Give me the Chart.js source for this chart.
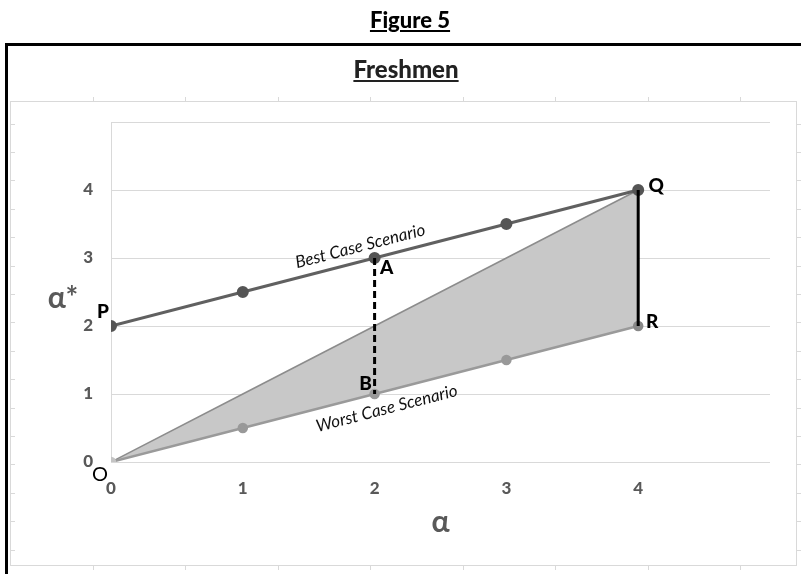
<!DOCTYPE html>
<html>
    <head>
        <title>Figure 5 - Freshmen</title>
        <script src="https://cdn.jsdelivr.net/npm/chart.js@4.4.1/dist/chart.umd.min.js"></script>
        <style>
            body { margin: 0; overflow: hidden; background: white; font-family: Lato, "Open Sans", sans-serif; }
            #figureTitle { position: absolute; left: 0; width: 820px; top: 6px; text-align: center; font-weight: 900; font-size: 22px; text-decoration: underline; }
            #frame { position: absolute; left: 5px; top: 43px; width: 830px; height: 560px; border: 3px solid black; }
            #chartTitle { position: absolute; left: 0; width: 812px; top: 54px; text-align: center; font-weight: 900; font-size: 24px; color: #222; text-decoration: underline; }
            canvas { position: absolute; left: 0; top: 0; }
        </style>
    </head>
    <body>
        <canvas id="freshmenChart" width="801" height="574"></canvas>
        <div id="figureTitle">Figure 5</div>
        <div id="frame"></div>
        <div id="chartTitle">Freshmen</div>
        <script>
            const alphaValues = [0, 1, 2, 3, 4];
            const bestCase = [2, 2.5, 3, 3.5, 4];
            const worstCase = [0, 0.5, 1, 1.5, 2];
            const diagonal = [0, 1, 2, 3, 4];
            const segmentQR = { x: [4, 4], y: [4, 2] };
            const segmentAB = { x: [2, 2], y: [3, 1] };
            const axisTicks = [0, 1, 2, 3, 4];

            const pointLabels = [
                { text: "P", x: 0, y: 2, dx: -8, dy: -14 },
                { text: "Q", x: 4, y: 4, dx: 18, dy: -4 },
                { text: "R", x: 4, y: 2, dx: 14, dy: -4 },
                { text: "A", x: 2, y: 3, dx: 12, dy: 10 },
                { text: "B", x: 2, y: 1, dx: -9, dy: -10 },
                { text: "O", x: 0, y: 0, dx: -11, dy: 13 },
            ];

            const toPoints = (xs, ys) => xs.map((x, i) => ({ x: x, y: ys[i] }));
            const font = 'Lato, "Open Sans", sans-serif';

            const annotations = {
                id: "annotations",
                beforeDraw: (chart) => {
                    const ctx = chart.ctx;
                    ctx.save();
                    ctx.strokeStyle = "#d9d9d9";
                    ctx.lineWidth = 1;
                    ctx.strokeRect(10.5, 101.5, 786, 464);
                    ctx.beginPath();
                    for (let k = 1; k <= 8; k++) {
                        const x = Math.round(92.5 * k) + 0.5;
                        ctx.moveTo(x, 97); ctx.lineTo(x, 101);
                        ctx.moveTo(x, 566); ctx.lineTo(x, 570);
                    }
                    for (let k = 0; k < 16; k++) {
                        const y = Math.round(123.5 + 28.4 * k) + 0.5;
                        ctx.moveTo(10, y); ctx.lineTo(15, y);
                        ctx.moveTo(797, y); ctx.lineTo(801, y);
                    }
                    ctx.stroke();
                    ctx.restore();
                },
                afterDraw: (chart) => {
                    const ctx = chart.ctx;
                    const xs = chart.scales.x;
                    const ys = chart.scales.y;
                    ctx.save();

                    // y axis title, horizontal
                    ctx.fillStyle = "#595959";
                    ctx.font = "bold 30px " + font;
                    ctx.textAlign = "center";
                    ctx.textBaseline = "middle";
                    ctx.fillText("α*", 63, (chart.chartArea.top + chart.chartArea.bottom) / 2 + 6);

                    // point letters
                    ctx.fillStyle = "black";
                    pointLabels.forEach(p => {
                        ctx.font = p.text === "O" ? "20px " + font : "900 19px " + font;
                        ctx.fillText(p.text, xs.getPixelForValue(p.x) + p.dx, ys.getPixelForValue(p.y) + p.dy);
                    });

                    // scenario labels along the lines
                    const lineLabel = (text, values, at, offset) => {
                        const x0 = xs.getPixelForValue(alphaValues[0]);
                        const y0 = ys.getPixelForValue(values[0]);
                        const x1 = xs.getPixelForValue(alphaValues[alphaValues.length - 1]);
                        const y1 = ys.getPixelForValue(values[values.length - 1]);
                        const angle = Math.atan2(y1 - y0, x1 - x0);
                        const px = x0 + (x1 - x0) * at;
                        const py = y0 + (y1 - y0) * at;
                        ctx.save();
                        ctx.translate(px, py);
                        ctx.rotate(angle);
                        ctx.font = "italic 17px " + font;
                        ctx.fillStyle = "#111";
                        ctx.fillText(text, 0, offset);
                        ctx.restore();
                    };
                    lineLabel("Best Case Scenario", bestCase, 0.48, -15);
                    lineLabel("Worst Case Scenario", worstCase, 0.515, 17);
                    ctx.restore();
                },
            };

            const tickFont = { family: font, size: 17, weight: "900" };

            new Chart(document.getElementById("freshmenChart"), {
                type: "scatter",
                data: {
                    datasets: [
                        {
                            data: toPoints(segmentQR.x, segmentQR.y),
                            showLine: true,
                            borderColor: "black",
                            borderWidth: 3,
                            pointRadius: 0,
                        },
                        {
                            data: toPoints(segmentAB.x, segmentAB.y),
                            showLine: true,
                            borderColor: "black",
                            borderWidth: 3,
                            borderDash: [7, 4],
                            pointRadius: 0,
                        },
                        {
                            data: toPoints(alphaValues, bestCase),
                            showLine: true,
                            borderColor: "#606060",
                            borderWidth: 3,
                            pointRadius: 4.5,
                            pointBackgroundColor: "#555555",
                            pointBorderColor: "#555555",
                        },
                        {
                            data: toPoints(alphaValues, worstCase),
                            showLine: true,
                            borderColor: "#9a9a9a",
                            borderWidth: 2.5,
                            pointRadius: 4,
                            pointBackgroundColor: ["#c4c4c4", "#999999", "#999999", "#999999", "#888888"],
                            pointBorderColor: ["#c4c4c4", "#999999", "#999999", "#999999", "#888888"],
                        },
                        {
                            data: toPoints(alphaValues, diagonal),
                            showLine: true,
                            borderColor: "#8c8c8c",
                            borderWidth: 1.5,
                            pointRadius: 0,
                            fill: { target: 3 },
                            backgroundColor: "#c8c8c8",
                        },
                    ],
                },
                options: {
                    responsive: false,
                    animation: false,
                    layout: { padding: { left: 0, right: 31, top: 122, bottom: 0 } },
                    plugins: {
                        legend: { display: false },
                        tooltip: { enabled: false },
                    },
                    scales: {
                        x: {
                            type: "linear",
                            min: 0,
                            max: 5,
                            afterBuildTicks: (scale) => { scale.ticks = axisTicks.concat([5]).map(v => ({ value: v })); },
                            ticks: {
                                padding: 16,
                                color: "#595959",
                                font: tickFont,
                                callback: (v) => axisTicks.includes(v) ? v : "",
                            },
                            grid: { display: false, drawTicks: false },
                            border: { display: false },
                            title: {
                                display: true,
                                text: "α",
                                color: "#595959",
                                font: { family: font, size: 30, weight: "bold" },
                                padding: { top: 4, bottom: 34 },
                            },
                            afterFit: (scale) => { scale.height = 112; },
                        },
                        y: {
                            min: 0,
                            max: 5,
                            afterBuildTicks: (scale) => { scale.ticks = axisTicks.concat([5]).map(v => ({ value: v })); },
                            ticks: {
                                padding: 18,
                                color: "#595959",
                                font: tickFont,
                                callback: (v) => axisTicks.includes(v) ? v : "",
                            },
                            grid: { color: "#d9d9d9", drawTicks: false },
                            border: { color: "#d9d9d9" },
                            afterFit: (scale) => { scale.width = 111; },
                        },
                    },
                },
                plugins: [annotations],
            });
        </script>
    </body>
</html>
